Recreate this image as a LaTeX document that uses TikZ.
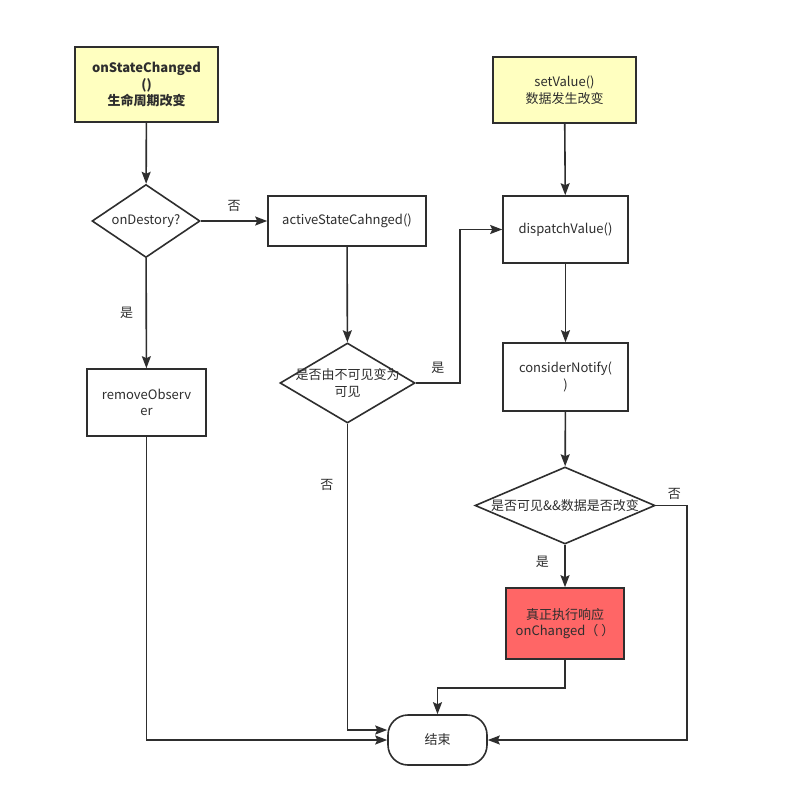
\documentclass[tikz,border=0pt]{standalone}
\usepackage{fontspec}
\setmainfont{Noto Sans CJK SC}
\usetikzlibrary{shapes.geometric,arrows.meta}
\definecolor{linegray}{HTML}{2E2E2E}
\definecolor{noteyellow}{HTML}{FFFFC0}
\definecolor{hitred}{HTML}{FF6666}

\begin{document}
\begin{tikzpicture}[x=1pt, y=-1pt,
  every node/.style={font=\fontsize{13}{16.5}\selectfont, text=linegray},
  proc/.style={draw=linegray, line width=1.6pt, rectangle, align=center, inner sep=2pt},
  cond/.style={draw=linegray, line width=1.6pt, diamond, inner sep=0pt},
  conn/.style={draw=linegray, line width=1.6pt, -{Stealth[length=12pt,width=9pt,inset=2pt]}},
  every edge/.style={conn}]
\useasboundingbox[fill=white] (0,0) rectangle (786,797);

\node[proc, fill=noteyellow, minimum width=143, minimum height=75, font=\fontsize{13}{16.5}\selectfont\bfseries] (life) at (146.5,84.5) {onStateChanged\\()\\生命周期改变};
\node[cond, minimum width=108, minimum height=73, label={center:onDestory?}] (dest) at (146,221) {};
\node[proc, minimum width=158, minimum height=50] (active) at (347,221) {activeStateCahnged()};
\node[proc, minimum width=119, minimum height=67] (remove) at (146.5,402.5) {removeObserv\\er};
\node[cond, minimum width=135, minimum height=80, label={[align=center]center:是否由不可见变为\\可见}] (shown) at (347.5,383) {};
\node[proc, fill=noteyellow, minimum width=143, minimum height=66] (setv) at (564.5,90) {setValue()\\数据发生改变};
\node[proc, minimum width=125, minimum height=67] (dispatch) at (565.5,229.5) {dispatchValue()};
\node[proc, minimum width=125, minimum height=68] (notify) at (565.5,377) {considerNotify(\\)};
\node[cond, minimum width=180, minimum height=77, label={center:是否可见\&\&数据是否改变}] (changed) at (565,505.5) {};
\node[proc, fill=hitred, minimum width=118, minimum height=71] (respond) at (565,623.5) {真正执行响应\\onChanged（\ ）};
\node[proc, rounded corners=20pt, minimum width=99, minimum height=50] (finish) at (437.5,740) {结束};

\draw
	(life) edge (dest)
	(dest) edge node[above=5pt]{否} (active)
	(dest) edge node[left=9pt]{是} (remove)
	(active) edge (shown)
	(setv) edge (dispatch)
	(dispatch) edge (notify)
	(notify) edge (changed)
	(changed) edge node[left=12pt, pos=.4]{是} (respond)
;
\draw[conn] (shown.east) -- node[above=5pt]{是} ++(44,0) |- (dispatch.west);
\draw[conn] (shown.south) |- node[left=10pt, pos=.1]{否} ([yshift=10pt]finish.west);
\draw[conn] (remove.south) |- (finish.west);
\draw[conn] (respond.south) -- ++(0,28) -| (finish.north);
\draw[conn] (changed.east) -- node[above=2pt, pos=.6]{否} ++(31,0) |- (finish.east);
\end{tikzpicture}
\end{document}
